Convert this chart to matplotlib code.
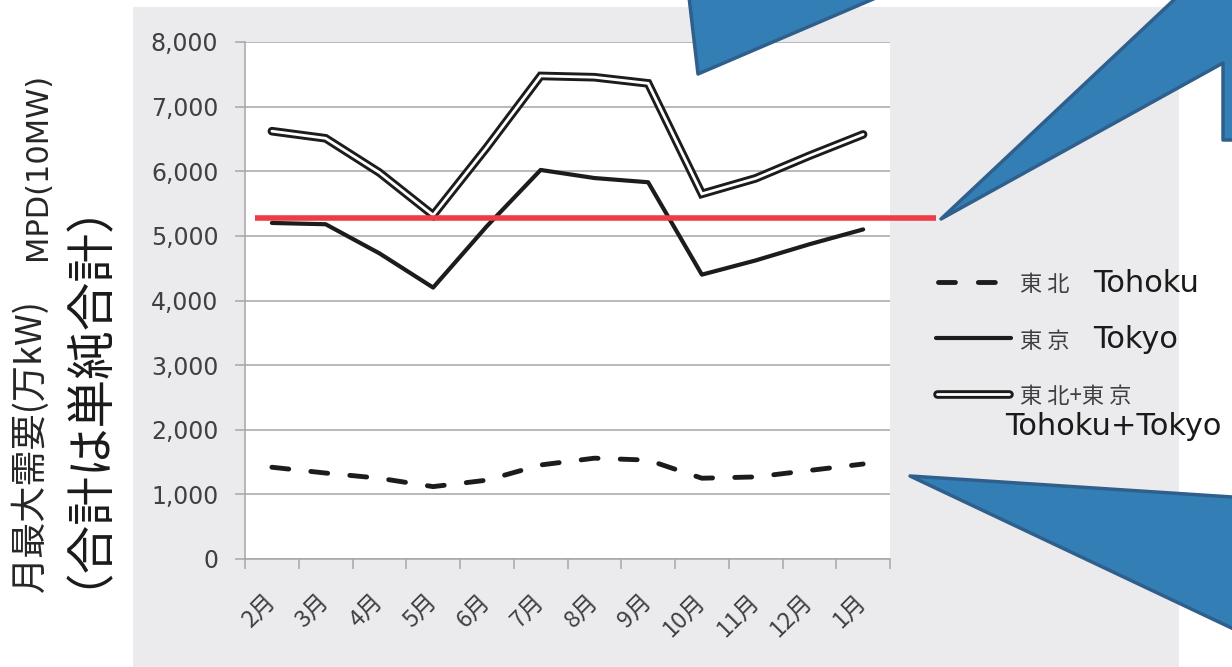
import matplotlib
matplotlib.use('Agg')
import matplotlib.pyplot as plt
from matplotlib.lines import Line2D
from matplotlib.patches import Polygon, Rectangle
from matplotlib.ticker import FuncFormatter

# monthly peak demand, 万kW
months = ['2月', '3月', '4月', '5月', '6月', '7月', '8月', '9月', '10月', '11月', '12月', '1月']
tohoku = [1420, 1330, 1250, 1120, 1220, 1455, 1560, 1530, 1250, 1270, 1370, 1470]
tokyo = [5200, 5180, 4730, 4200, 5150, 6020, 5895, 5830, 4400, 4620, 4870, 5100]
total = [a + b for a, b in zip(tohoku, tokyo)]  # 単純合計
ref_line = 5270

CJK = ['Noto Sans CJK JP', 'DejaVu Sans']
plt.rcParams['lines.scale_dashes'] = False

W, H = 1232, 667


def fx(x):
    return x / W


def fy(y):
    return 1 - y / H


fig = plt.figure(figsize=(12.32, 6.67), dpi=100)
fig.patch.set_facecolor('white')

# gray panel behind the chart
fig.add_artist(Rectangle((fx(133), fy(667)), fx(1179) - fx(133), fy(7) - fy(667),
                         transform=fig.transFigure, facecolor='#ebebee',
                         edgecolor='none', zorder=-10))

ax = fig.add_axes([fx(245), fy(559), fx(890) - fx(245), fy(42) - fy(559)])
ax.set_facecolor('white')
x = list(range(len(months)))
ink = '#1c1c1c'

ax.plot(x, tohoku, color=ink, lw=3.5, dashes=(12.2, 16), dash_capstyle='round',
        dash_joinstyle='round', zorder=3)
ax.plot(x, tokyo, color=ink, lw=3, solid_capstyle='round', solid_joinstyle='round', zorder=3)
ax.plot(x, total, color=ink, lw=6.2, solid_capstyle='round', solid_joinstyle='miter', zorder=3)
ax.plot(x, total, color='white', lw=2, solid_capstyle='round', solid_joinstyle='miter', zorder=3)

ax.axhline(ref_line, xmin=(255 - 245) / 645, xmax=(936 - 245) / 645, color='#ee3b45',
           lw=4, clip_on=False, zorder=6, solid_capstyle='butt')

ax.set_xlim(-0.5, len(months) - 0.5)
ax.set_ylim(0, 8000)
ax.set_yticks(range(0, 8001, 1000))
ax.yaxis.set_major_formatter(FuncFormatter(lambda v, p: f'{int(v):,}'))
ax.yaxis.grid(True, color='#a6a6a6', lw=1.1)
ax.set_axisbelow(True)
for s in ['top', 'right']:
    ax.spines[s].set_visible(False)
for s in ['left', 'bottom']:
    ax.spines[s].set_color('#a6a6a6')
    ax.spines[s].set_linewidth(1.1)

ax.tick_params(axis='y', length=7.2, width=1.1, color='#a6a6a6', pad=12,
               labelsize=17, labelcolor='#404040')
ax.set_xticks(x)
ax.set_xticklabels(months, rotation=45, ha='right', va='center', rotation_mode='anchor',
                   family=CJK, fontsize=17, color='#404040')
ax.set_xticks([i - 0.5 for i in range(len(months) + 1)], minor=True)
ax.tick_params(axis='x', which='major', length=0, pad=28)
ax.tick_params(axis='x', which='minor', length=7.2, width=1.1, color='#a6a6a6')

# y-axis title
fig.text(fx(30), fy(592), '月最大需要(万kW)', rotation=90, rotation_mode='anchor',
         ha='left', va='center', fontsize=26, family=CJK, color='#262626')
fig.text(fx(38), fy(73), 'MPD(10MW)', rotation=90, rotation_mode='anchor',
         ha='right', va='center', fontsize=22, family='DejaVu Sans', color='#262626')
fig.text(fx(62), fy(369), '（合計は単純合計）', rotation=90, rotation_mode='anchor',
         ha='center', va='center', fontsize=35, family=CJK, color='#1a1a1a')

# legend
fig.add_artist(Line2D([fx(937.5), fx(994.5)], [fy(282), fy(282)], transform=fig.transFigure,
                      color=ink, lw=3.5, dashes=(12.2, 16.5), dash_capstyle='round'))
fig.add_artist(Line2D([fx(936), fx(1011)], [fy(338), fy(338)], transform=fig.transFigure,
                      color=ink, lw=3, solid_capstyle='round'))
fig.add_artist(Line2D([fx(937), fx(1009)], [fy(394), fy(394)], transform=fig.transFigure,
                      color=ink, lw=6.2, solid_capstyle='round'))
fig.add_artist(Line2D([fx(937), fx(1009)], [fy(394), fy(394)], transform=fig.transFigure,
                      color='white', lw=2, solid_capstyle='round'))

fig.text(fx(1020), fy(291), '東 北', fontsize=16, family=CJK, color='#404040', va='baseline')
fig.text(fx(1093), fy(292), 'Tohoku', fontsize=22, color='#1a1a1a', va='baseline')
fig.text(fx(1020), fy(348), '東 京', fontsize=16, family=CJK, color='#404040', va='baseline')
fig.text(fx(1093), fy(348), 'Tokyo', fontsize=22, color='#1a1a1a', va='baseline')
fig.text(fx(1020), fy(403), '東 北+東 京', fontsize=16, family=CJK, color='#404040', va='baseline')
fig.text(fx(1005), fy(435), 'Tohoku+Tokyo', fontsize=22, color='#1a1a1a', va='baseline')

# blue callout shapes
callouts = [
    [(698, 74), (689, -3), (878, -3)],
    [(941, 219), (1177, -3), (1240, -3), (1240, 140), (1223, 140), (1223, 63)],
    [(910, 476), (1240, 497.5), (1240, 632)],
]
for pts in callouts:
    fig.add_artist(Polygon([(fx(a), fy(b)) for a, b in pts], closed=True,
                           transform=fig.transFigure, facecolor='#337fb5',
                           edgecolor='#2f5f8c', lw=2.5, joinstyle='round', zorder=10))

fig.savefig('out.png', dpi=100)
